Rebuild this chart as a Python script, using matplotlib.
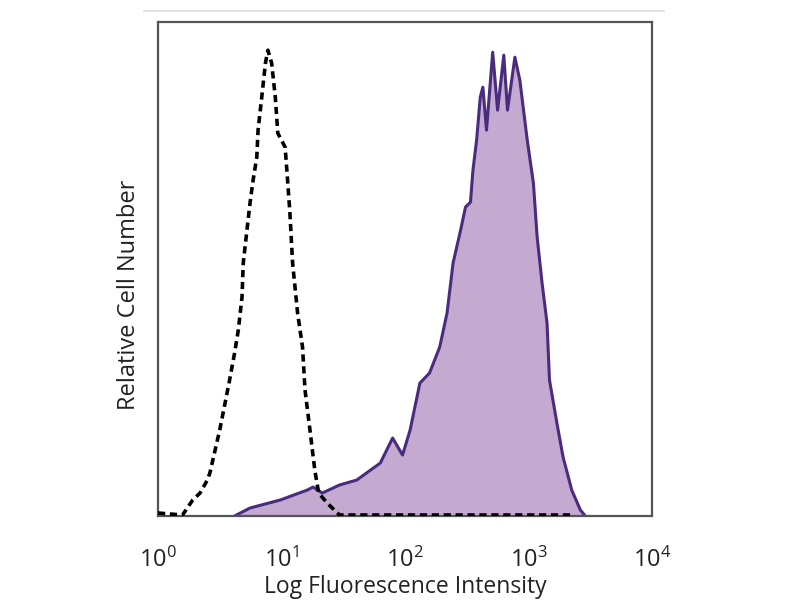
import matplotlib
matplotlib.use("Agg")
import matplotlib.pyplot as plt
from matplotlib.lines import Line2D

# Isotype control (dashed) - intensity vs relative count
ctrl_x = [1.0, 1.58, 1.91, 2.19, 2.51, 2.63, 3.16, 3.80, 4.17, 4.47, 4.79, 4.90, 5.25,
          5.56, 5.89, 6.31, 6.46, 6.92, 7.41, 7.76, 8.32, 8.91, 9.33, 10.7, 11.2,
          11.7, 12.3, 13.5, 14.8, 15.5, 17.0, 18.6, 20.0, 23.4, 29.5, 2240]
ctrl_y = [3, 1, 16, 23, 36, 43, 86, 136, 163, 186, 219, 253, 286,
          313, 336, 359, 386, 419, 453, 466, 453, 419, 383, 369, 336,
          303, 253, 203, 169, 126, 86, 46, 23, 13, 1, 1]

# Stained sample (filled purple)
stain_x = [4.17, 5.56, 9.77, 16.2, 18.0, 21.4, 29.5, 40.7, 63.1, 79.4, 95.5, 110,
           132, 158, 191, 219, 245, 282, 309, 339, 355, 380, 407, 427, 457,
           513, 562, 631, 676, 776, 851, 977, 1096, 1175, 1288, 1413, 1479,
           1698, 1905, 2239, 2630, 2884]
stain_y = [0, 8, 16, 26, 29, 23, 31, 36, 53, 78, 61, 86,
           133, 143, 169, 203, 253, 286, 309, 314, 346, 376, 419, 429, 386,
           464, 406, 461, 406, 459, 436, 376, 333, 279, 233, 193, 136,
           93, 59, 26, 6, 0]

tick_vals = [1, 10, 100, 1000, 10000]
tick_labels = [r"$10^{0}$", r"$10^{1}$", r"$10^{2}$", r"$10^{3}$", r"$10^{4}$"]

plt.rcParams['font.family'] = ['Open Sans', 'DejaVu Sans']
plt.rcParams['mathtext.fontset'] = 'custom'
plt.rcParams['mathtext.rm'] = 'Open Sans'
plt.rcParams['mathtext.it'] = 'Open Sans'

fig = plt.figure(figsize=(8, 6), dpi=100)
ax = fig.add_axes([0.1975, 0.14, 0.6175, 0.823])

ax.fill_between(stain_x, 0, stain_y, color='#c4aad0', linewidth=0, zorder=1)
ax.plot(stain_x, stain_y, color='#4a2c7e', linewidth=2.2, zorder=2)
ax.plot(ctrl_x, ctrl_y, color='black', linewidth=2.6, linestyle=(0, (2.0, 1.3)), zorder=3)

ax.set_xscale('log')
ax.set_xlim(1, 10000)
ax.set_ylim(0, 494)
ax.set_xticks(tick_vals)
ax.set_xticklabels(tick_labels, fontsize=17)
ax.minorticks_off()
ax.tick_params(axis='x', length=0, pad=23, colors='#222222')
ax.set_yticks([])
for s in ax.spines.values():
    s.set_color('#555555')
    s.set_linewidth(1.6)

ax.set_xlabel("Log Fluorescence Intensity", fontsize=16.5, color='#222222', labelpad=1)
ax.set_ylabel("Relative Cell Number", fontsize=17, color='#222222')
ax.yaxis.set_label_coords(-0.034, 0.449)

fig.add_artist(Line2D([0.18, 0.83], [0.982, 0.982], transform=fig.transFigure,
                      color='#dddddd', linewidth=1.2))

fig.savefig("out.png", dpi=100)
